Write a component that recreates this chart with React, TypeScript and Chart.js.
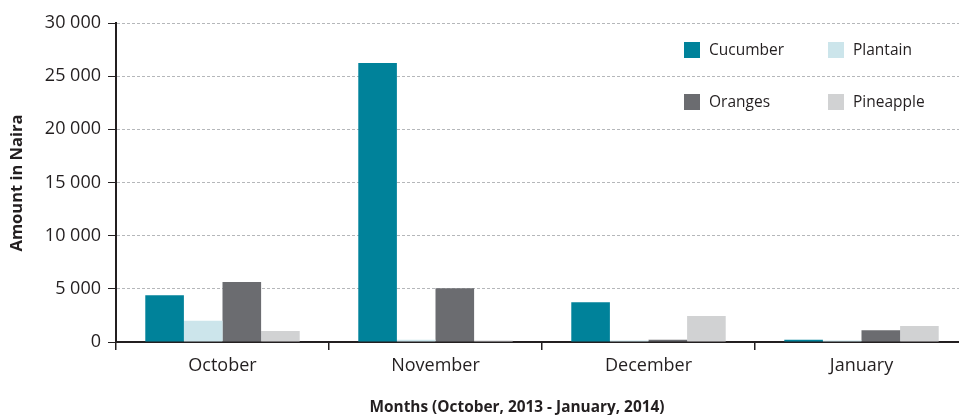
import React, { useEffect, useRef } from "react";
import { Chart, registerables } from "chart.js";

Chart.register(...registerables);

const categories = ["October", "November", "December", "January"];
const cucumber = [4400, 26250, 3750, 200];
const plantain = [2000, 200, 150, 150];
const oranges = [5650, 5050, 200, 1100];
const pineapple = [1030, 150, 2450, 1500];
const yTicks = [0, 5000, 10000, 15000, 20000, 25000, 30000];
const yTitle = "Amount in Naira";
const xTitle = "Months (October, 2013 - January, 2014)";

const COLORS = ["#00829a", "#cce5eb", "#6b6c70", "#d1d2d3"];
const NAMES = ["Cucumber", "Plantain", "Oranges", "Pineapple"];
const TEXT = "#231f20";
const FONT = "'Open Sans', 'Noto Sans', sans-serif";

const fmt = (v: number) => {
  const s = String(Math.round(v));
  return s.replace(/\B(?=(\d{3})+(?!\d))/g, " ");
};

const overlay = {
  id: "overlay",
  afterDraw(chart: any) {
    const ctx = chart.ctx;
    ctx.save();
    const pos = [
      [684, 42],
      [828, 42],
      [684, 94],
      [828, 94],
    ];
    ctx.font = `15.5px ${FONT}`;
    ctx.textBaseline = "middle";
    ctx.textAlign = "left";
    for (let i = 0; i < 4; i++) {
      const [x, y] = pos[i];
      ctx.fillStyle = COLORS[i];
      ctx.fillRect(x, y, 16, 16);
      ctx.fillStyle = TEXT;
      ctx.fillText(NAMES[i], x + 25, y + 8.5);
    }
    ctx.font = `bold 15.4px ${FONT}`;
    ctx.textAlign = "center";
    ctx.fillText(xTitle, 517, 408);
    ctx.translate(17.5, 183);
    ctx.rotate(-Math.PI / 2);
    ctx.font = `bold 16.5px ${FONT}`;
    ctx.fillText(yTitle, 0, 0);
    ctx.restore();
  },
};

export default function App() {
  const ref = useRef<HTMLCanvasElement | null>(null);
  useEffect(() => {
    if (!ref.current) return;
    const chart = new Chart(ref.current, {
      type: "bar",
      data: {
        labels: categories,
        datasets: [cucumber, plantain, oranges, pineapple].map((d, i) => ({
          label: NAMES[i],
          data: d,
          backgroundColor: COLORS[i],
          borderWidth: 0,
          categoryPercentage: 0.725,
          barPercentage: 1,
        })),
      },
      options: {
        responsive: false,
        animation: false,
        layout: { padding: { left: 0, right: 12, top: 23, bottom: 0 } },
        plugins: {
          legend: { display: false },
          tooltip: { enabled: false },
          title: { display: false },
        },
        scales: {
          x: {
            offset: true,
            afterFit: (s: any) => {
              s.height = 73;
            },
            grid: {
              drawOnChartArea: false,
              offset: true,
              tickLength: 8,
              color: TEXT,
              lineWidth: 1.5,
            },
            border: { display: true, color: TEXT, width: 2 },
            ticks: {
              color: TEXT,
              font: { family: FONT, size: 18 },
              padding: 5,
            },
          },
          y: {
            min: 0,
            max: 30000,
            afterFit: (s: any) => {
              s.width = 116;
            },
            afterBuildTicks: (s: any) => {
              s.ticks = yTicks.map((v) => ({ value: v }));
            },
            grid: {
              color: "#b5b7ba",
              lineWidth: 1,
              tickLength: 8,
              tickColor: TEXT,
              tickBorderDash: [],
              tickWidth: 1,
            },
            border: { display: true, color: TEXT, width: 2, dash: [3, 2] },
            ticks: {
              color: TEXT,
              font: { family: FONT, size: 18 },
              padding: 7,
              callback: (v: any) => fmt(Number(v)),
            },
          },
        },
      },
      plugins: [overlay],
    });
    return () => chart.destroy();
  }, []);
  return (
    <div
      style={{
        position: "fixed",
        left: 0,
        top: 0,
        width: 959,
        height: 415,
        overflow: "hidden",
        background: "#fff",
      }}
    >
      <canvas ref={ref} width={980} height={415} style={{ display: "block" }} />
    </div>
  );
}
